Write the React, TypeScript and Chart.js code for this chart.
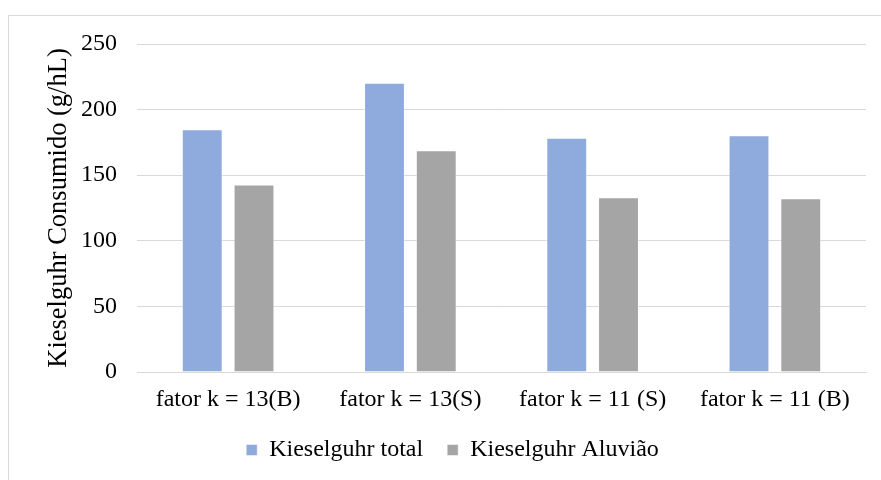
import React, { useEffect, useRef } from "react";
import { Chart, registerables } from "chart.js";

Chart.register(...registerables);

const categories = ["fator k = 13(B)", "fator k = 13(S)", "fator k = 11 (S)", "fator k = 11 (B)"];
const kieselguhrTotal = [185, 220.5, 178.6, 180.4];
const kieselguhrAluviao = [143, 169, 133.2, 132.4];
const seriesNames = ["Kieselguhr total", "Kieselguhr Aluvião"];
const yTitle = "Kieselguhr Consumido (g/hL)";

const FONT = "'Liberation Serif', 'Times New Roman', serif";

export default function App() {
  const ref = useRef<HTMLCanvasElement | null>(null);

  useEffect(() => {
    if (!ref.current) return;
    const chart = new Chart(ref.current, {
      type: "bar",
      data: {
        labels: categories,
        datasets: [
          {
            label: seriesNames[0],
            data: kieselguhrTotal,
            backgroundColor: "#8FAADC",
            borderColor: "rgba(255,255,255,0.5)",
            borderWidth: 1,
            categoryPercentage: 0.568,
            barPercentage: 0.79,
          },
          {
            label: seriesNames[1],
            data: kieselguhrAluviao,
            backgroundColor: "#A5A5A5",
            borderColor: "rgba(255,255,255,0.5)",
            borderWidth: 1,
            categoryPercentage: 0.568,
            barPercentage: 0.79,
          },
        ],
      },
      options: {
        responsive: false,
        animation: false,
        devicePixelRatio: 1,
        layout: { padding: { left: 30, right: 27, top: 28, bottom: 8 } },
        plugins: {
          tooltip: { enabled: false },
          legend: {
            position: "bottom",
            labels: {
              boxWidth: 11,
              boxHeight: 11,
              padding: 24,
              color: "#000",
              font: { family: FONT, size: 24 },
            },
          },
        },
        scales: {
          x: {
            grid: { display: false, drawTicks: false },
            border: { display: true, color: "#d9d9d9", width: 1 },
            ticks: {
              color: "#000",
              font: { family: FONT, size: 24, lineHeight: 1 },
              padding: 16,
              maxRotation: 0,
              autoSkip: false,
            },
            afterFit: (scale: any) => {
              scale.height = 42;
            },
          },
          y: {
            min: 0,
            max: 250,
            grid: { color: "#d9d9d9", lineWidth: 1, drawTicks: false },
            border: { display: false },
            ticks: {
              stepSize: 50,
              color: "#000",
              font: { family: FONT, size: 24, lineHeight: 0.1 },
              padding: 20,
            },
            title: {
              display: true,
              text: yTitle,
              color: "#000",
              font: { family: FONT, size: 26.5 },
              padding: { top: 4, bottom: 4 },
            },
            afterFit: (scale: any) => {
              scale.width = 98;
            },
          },
        },
      },
    });
    return () => chart.destroy();
  }, []);

  return (
    <div
      style={{
        position: "fixed",
        left: 0,
        top: 0,
        width: 881,
        height: 480,
        overflow: "hidden",
        background: "#fff",
      }}
    >
      <div
        style={{
          position: "absolute",
          left: 8,
          top: 15,
          width: 886,
          height: 480,
          border: "1px solid #d9d9d9",
          boxSizing: "border-box",
        }}
      >
        <canvas ref={ref} width={884} height={464} style={{ display: "block" }} />
      </div>
    </div>
  );
}
